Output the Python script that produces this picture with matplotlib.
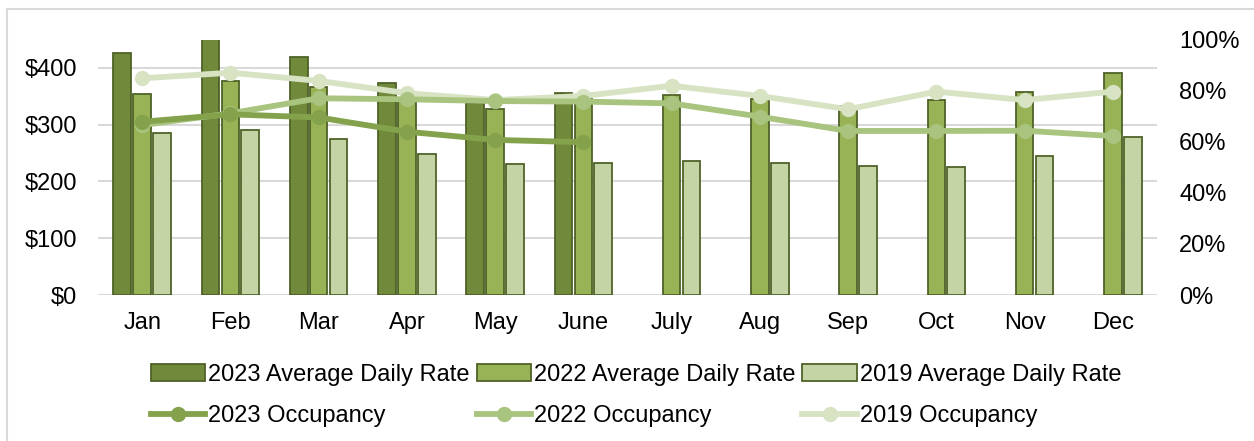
import matplotlib
matplotlib.use("Agg")
import matplotlib.pyplot as plt
from matplotlib.lines import Line2D
from matplotlib.patches import Patch
import numpy as np

plt.rcParams["font.family"] = ["Liberation Sans", "DejaVu Sans"]

# ── Data ──────────────────────────────────────────────────────────────────
months = ["Jan", "Feb", "Mar", "Apr", "May", "June",
          "July", "Aug", "Sep", "Oct", "Nov", "Dec"]

adr_2023 = [426, 455, 419, 373, 338, 356]
adr_2022 = [354, 377, 366, 345, 327, 345, 352, 345, 333, 343, 357, 391]
adr_2019 = [285, 291, 275, 248, 231, 232, 236, 233, 228, 225, 245, 278]

occ_2023 = [0.678, 0.707, 0.695, 0.639, 0.607, 0.598]
occ_2022 = [0.665, 0.711, 0.770, 0.766, 0.759, 0.757, 0.750, 0.698, 0.642, 0.642, 0.643, 0.622]
occ_2019 = [0.848, 0.870, 0.838, 0.790, 0.763, 0.779, 0.819, 0.779, 0.727, 0.796, 0.763, 0.796]

# ── Styling ───────────────────────────────────────────────────────────────
C_BAR = ["#70893B", "#97B356", "#C4D4A4"]
C_EDGE = "#4F6228"
C_LINE = ["#84A24C", "#A9C47F", "#D7E3C3"]
GRID = "#D9D9D9"
FS = 17

W, H = 1254, 441
fig = plt.figure(figsize=(W / 100, H / 100), dpi=100)
ax = fig.add_axes([98 / W, 1 - 295 / H, (1157 - 98) / W, (295 - 39.5) / H])

x = np.arange(len(months))
bw, off = 0.2, 0.225
ax.bar(x[:len(adr_2023)] - off, adr_2023, bw, color=C_BAR[0], edgecolor=C_EDGE, linewidth=1.3, zorder=2)
ax.bar(x, adr_2022, bw, color=C_BAR[1], edgecolor=C_EDGE, linewidth=1.3, zorder=2)
ax.bar(x + off, adr_2019, bw, color=C_BAR[2], edgecolor=C_EDGE, linewidth=1.3, zorder=2)

ax.set_xlim(-0.5, len(months) - 0.5)
ax.set_ylim(0, 450)
ax.set_yticks([0, 100, 200, 300, 400])
ax.set_yticklabels([f"${v}" for v in [0, 100, 200, 300, 400]])
ax.set_xticks(x)
ax.set_xticklabels(months)
ax.yaxis.grid(True, color=GRID, linewidth=1.5, zorder=0)
ax.set_axisbelow(True)
for s in ax.spines.values():
    s.set_visible(False)
ax.tick_params(axis="both", length=0, labelsize=FS, colors="black")
ax.tick_params(axis="y", pad=15)
ax.tick_params(axis="x", pad=12)

ax2 = ax.twinx()
lw, ms = 4.2, 10
ax2.plot(x[:len(occ_2023)], occ_2023, color=C_LINE[0], lw=lw, marker="o", ms=ms, solid_capstyle="round", zorder=3)
ax2.plot(x, occ_2022, color=C_LINE[1], lw=lw, marker="o", ms=ms, solid_capstyle="round", zorder=2)
ax2.plot(x, occ_2019, color=C_LINE[2], lw=lw, marker="o", ms=ms, solid_capstyle="round", zorder=1)
ax2.set_ylim(0, 1)
ax2.set_yticks(np.linspace(0, 1, 6))
ax2.set_yticklabels([f"{int(round(v * 100))}%" for v in np.linspace(0, 1, 6)])
for s in ax2.spines.values():
    s.set_visible(False)
ax2.tick_params(axis="y", length=0, labelsize=FS, pad=16)

# ── Legend: bars on the first row, lines on the second ───────────────────
h_bars = [Patch(facecolor=C_BAR[i], edgecolor=C_EDGE, linewidth=1.3) for i in range(3)]
h_lines = [Line2D([], [], color=C_LINE[i], lw=lw, marker="o", ms=ms) for i in range(3)]
labels_bar = ["2023 Average Daily Rate", "2022 Average Daily Rate", "2019 Average Daily Rate"]
labels_line = ["2023 Occupancy", "2022 Occupancy", "2019 Occupancy"]
handles, labels = [], []
for i in range(3):
    handles += [h_bars[i], h_lines[i]]
    labels += [labels_bar[i], labels_line[i]]
fig.legend(handles, labels, ncol=3, loc="center", bbox_to_anchor=(636 / W, 1 - 395.5 / H),
           frameon=False, fontsize=FS, handlelength=2.3, handleheight=0.75,
           handletextpad=0.12, columnspacing=0.3, labelspacing=0.82, borderpad=0)

# chart border (light gray, only top and left visible in the crop)
fig.add_artist(Line2D([7 / W, 7 / W], [0, 1 - 9 / H], color=GRID, lw=1.5, transform=fig.transFigure))
fig.add_artist(Line2D([7 / W, 1], [1 - 9 / H, 1 - 9 / H], color=GRID, lw=1.5, transform=fig.transFigure))

fig.savefig("out.png", dpi=100)
